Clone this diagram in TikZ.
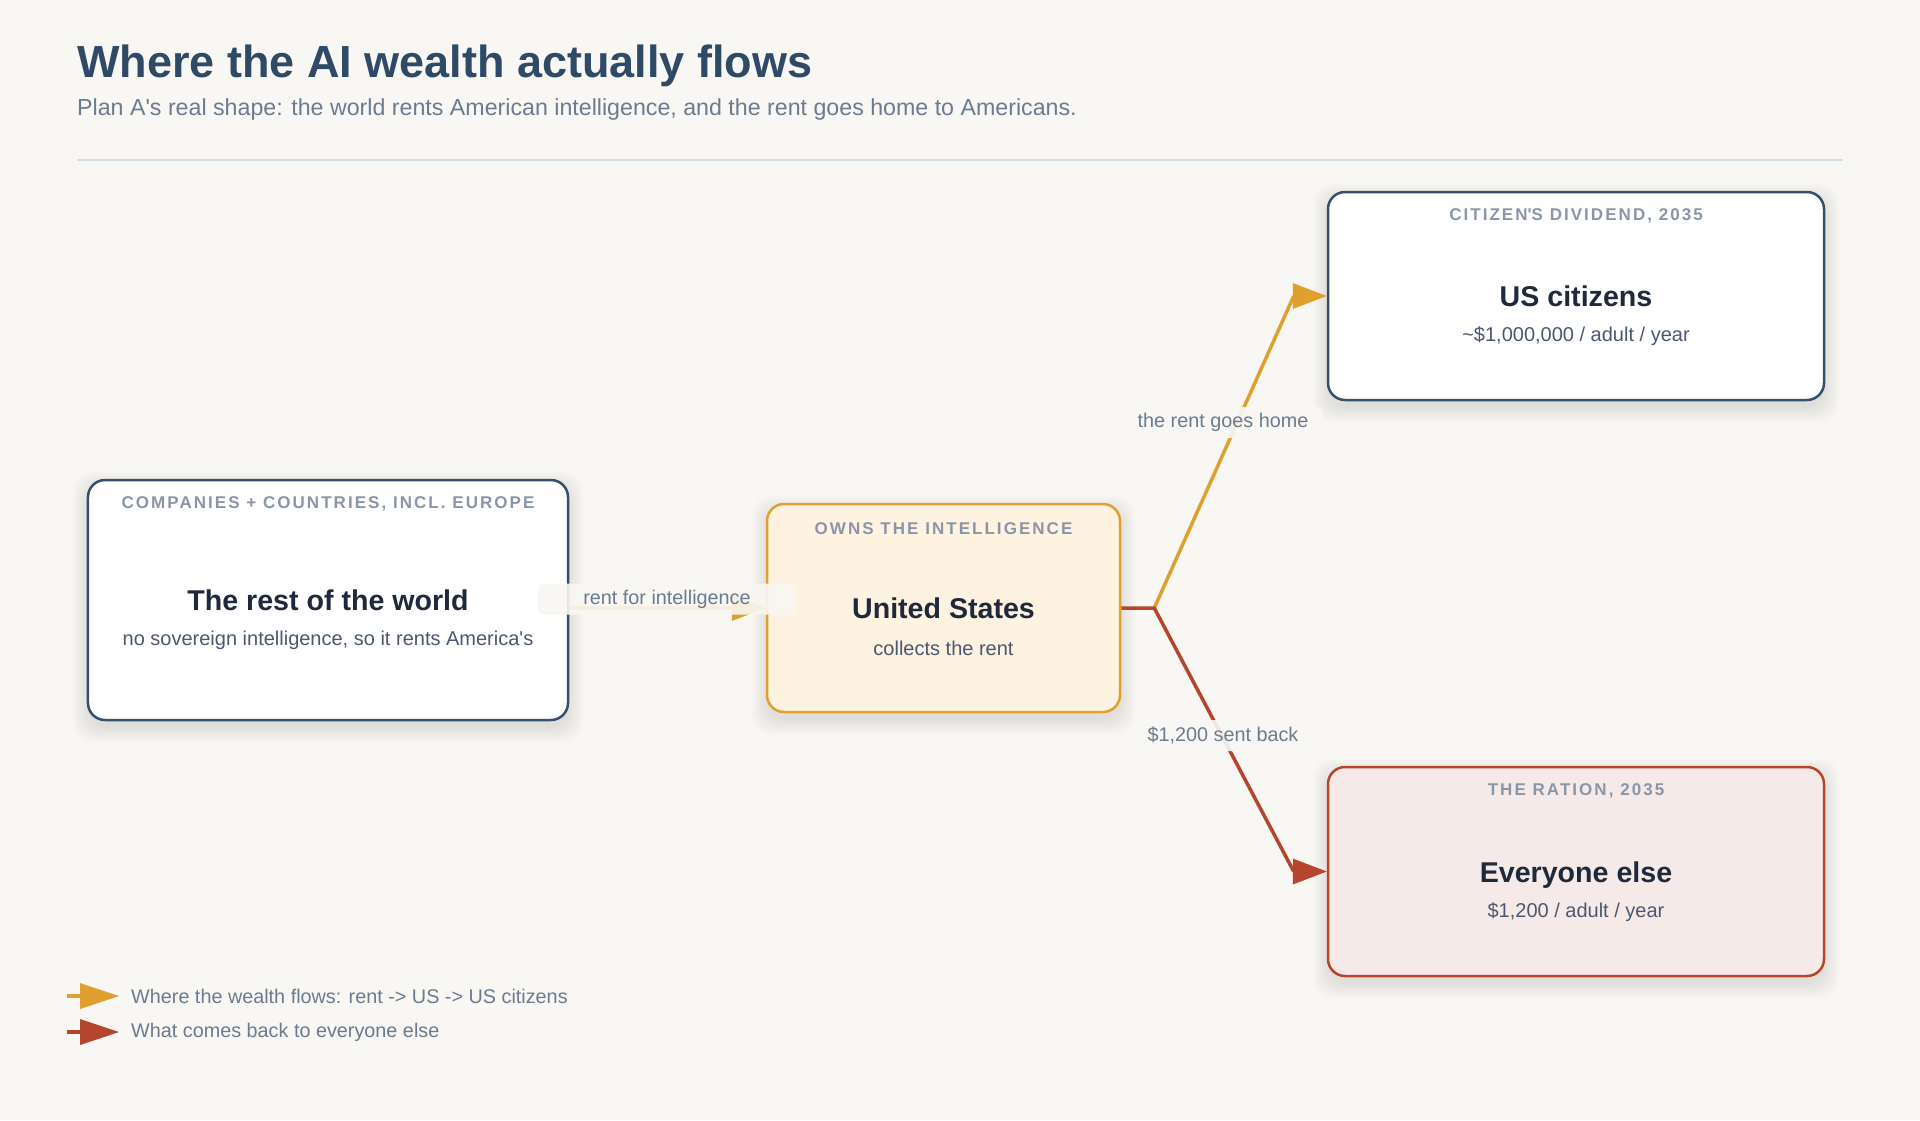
\documentclass[tikz,border=0pt]{standalone}
\usepackage{fontspec}
\setmainfont{Liberation Sans}
\newfontfamily\capsfont[LetterSpace=12]{Liberation Sans}
\usetikzlibrary{calc}
\pgfdeclarelayer{bglayer}
\pgfdeclarelayer{shadowlayer}
\pgfsetlayers{bglayer,shadowlayer,main}
\definecolor{bgc}{HTML}{F9F7F3}
\definecolor{titlec}{HTML}{2E4A67}
\definecolor{subc}{HTML}{6B7B90}
\definecolor{rulec}{HTML}{D5DDE4}
\definecolor{navy}{HTML}{34506E}
\definecolor{hdrc}{HTML}{8A96A8}
\definecolor{darkc}{HTML}{1E293B}
\definecolor{bodyc}{HTML}{4A5871}
\definecolor{orangec}{HTML}{E0A030}
\definecolor{orangefill}{HTML}{FEF2E1}
\definecolor{redc}{HTML}{B6452E}
\definecolor{redfill}{HTML}{F6EAE8}
\newcommand\pxsize[1]{\fontsize{#1bp}{#1bp}\selectfont}
\newcommand\headat[2]{\fill[#1] (#2) -- ++(-34,-13) -- ++(0,26) -- cycle;}
\newcommand\softshadow[1]{%
  \begin{pgfonlayer}{shadowlayer}
  \foreach \e in {0,2,...,14}{%
    \fill[black, opacity=0.011, rounded corners=20bp]
      ([shift={(-\e,-\e+7)}]#1.north west) rectangle ([shift={(\e,\e+7)}]#1.south east);
  }
  \end{pgfonlayer}}
\tikzset{
  card/.style={draw, rounded corners=17bp, line width=2.5bp, inner sep=0pt},
  hdr/.style={inner sep=0pt, text=hdrc, font=\capsfont\bfseries\pxsize{17}},
  maint/.style={inner sep=0pt, text=darkc, font=\bfseries\pxsize{28.6}},
  subt/.style={inner sep=0pt, text=bodyc, font=\pxsize{20}},
  lbl/.style={text=subc, font=\pxsize{19.8}, fill=bgc, fill opacity=0.9, text opacity=1,
    rounded corners=6bp, inner sep=0pt, minimum height=31bp},
  flow/.style={line width=3.5bp},
  legt/.style={anchor=west, inner sep=0pt, text=subc, font=\pxsize{19.8}}
}
\begin{document}
\begin{tikzpicture}[x=1bp,y=-1bp]
\useasboundingbox (0,0) rectangle (1920,1120);
\begin{pgfonlayer}{bglayer}
\fill[bgc] (0,0) rectangle (1920,1120);
\end{pgfonlayer}
% title
\node[anchor=base west, inner sep=0pt, text=titlec, font=\bfseries\pxsize{45}] (title) at (77,77) {Where the AI wealth actually flows};
\node[anchor=base west, inner sep=0pt, text=subc, font=\pxsize{23.2}] (subtitle) at (77,115) {Plan A\textquotesingle s real shape: the world rents American intelligence, and the rent goes home to Americans.};
\draw[rulec, line width=2bp] (77,160) -- (1843,160);
% boxes
\node[card, draw=navy, fill=white, minimum width=480bp, minimum height=240bp] (rw) at (328,600) {};
\node[card, draw=orangec, fill=orangefill, minimum width=353bp, minimum height=208bp] (us) at (943.5,608) {};
\node[card, draw=navy, fill=white, minimum width=496bp, minimum height=208bp] (cit) at (1576,296) {};
\node[card, draw=redc, fill=redfill, minimum width=496bp, minimum height=209bp] (ee) at (1576,871.5) {};
\softshadow{rw}
\softshadow{us}
\softshadow{cit}
\softshadow{ee}
% box texts
\node[hdr] (rw-h) at ($(rw.north)+(0,25)$) {COMPANIES + COUNTRIES, INCL. EUROPE};
\node[maint] (rw-t) at ($(rw.center)+(0,0)$) {The rest of the world};
\node[subt] (rw-s) at ($(rw.center)+(0,40)$) {no sovereign intelligence, so it rents America\textquotesingle s};
\node[hdr] (us-h) at ($(us.north)+(0,26)$) {OWNS THE INTELLIGENCE};
\node[maint] (us-t) at ($(us.center)+(0,0)$) {United States};
\node[subt] (us-s) at ($(us.center)+(0,40)$) {collects the rent};
\node[hdr] (cit-h) at ($(cit.north)+(0,25)$) {CITIZEN\textquotesingle S DIVIDEND, 2035};
\node[maint] (cit-t) at ($(cit.center)+(0,0)$) {US citizens};
\node[subt] (cit-s) at ($(cit.center)+(0,40)$) {\textasciitilde\$1,000,000 / adult / year};
\node[hdr] (ee-h) at ($(ee.north)+(0,25)$) {THE RATION, 2035};
\node[maint] (ee-t) at ($(ee.center)+(0,4)$) {Everyone else};
\node[subt] (ee-s) at ($(ee.center)+(0,41)$) {\$1,200 / adult / year};
% connectors
\coordinate (fork) at ($(us.east)+(33,0)$);
\coordinate (rwout) at (rw.east |- us.west);
\draw[orangec, flow] (rwout) -- ($(us.west)+(-33,0)$);
\headat{orangec}{us.west}
\draw[orangec, flow] (fork) -- ($(cit.west)+(-33,0)$);
\headat{orangec}{cit.west}
\draw[redc, flow] (us.east) -- (fork) -- ($(ee.west)+(-33,0)$);
\headat{redc}{ee.west}
% labels
\node[lbl, minimum width=258bp] (l-rent) at (667,599) {rent for intelligence};
\node[lbl, inner xsep=14bp] (l-home) at (1223,422.5) {the rent goes home};
\node[lbl, inner xsep=14bp] (l-back) at (1223,735.5) {\$1,200 sent back};
% legend
\coordinate (lg1) at (67,996);
\coordinate (lg2) at (67,1032);
\draw[orangec, line width=4bp] (lg1) -- ++(16,0);
\fill[orangec] ($(lg1)+(52,0)$) -- ++(-39,-13) -- ++(0,26) -- cycle;
\draw[redc, line width=4bp] (lg2) -- ++(16,0);
\fill[redc] ($(lg2)+(52,0)$) -- ++(-39,-13) -- ++(0,26) -- cycle;
\node[legt] (lg1t) at (131,996) {Where the wealth flows: rent -> US -> US citizens};
\node[legt] (lg2t) at (131,1032) {What comes back to everyone else};
\end{tikzpicture}
\end{document}
